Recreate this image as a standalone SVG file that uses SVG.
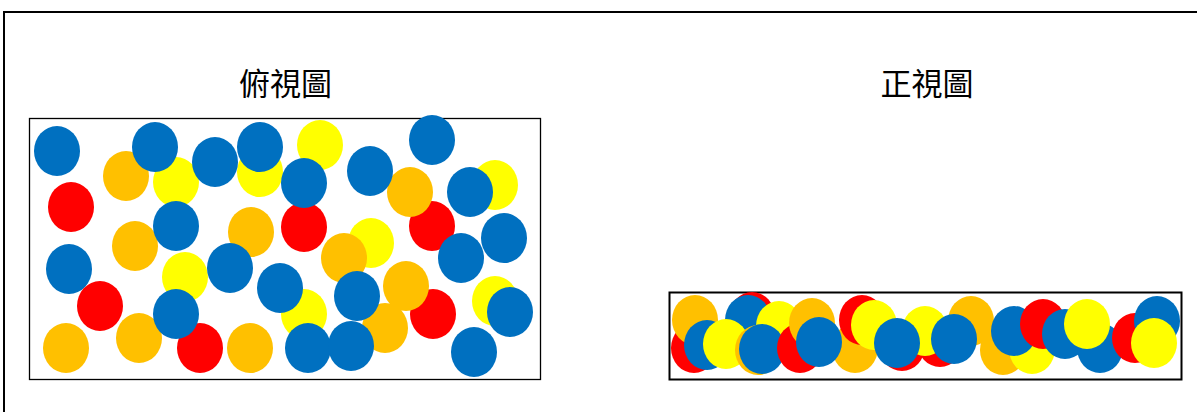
<svg xmlns="http://www.w3.org/2000/svg" width="1197" height="412" viewBox="0 0 1197 412">
<style>
.b{fill:#0070C0}.o{fill:#FFC000}.y{fill:#FFFF00}.r{fill:#FF0000}
.t{font-family:"Noto Sans CJK TC","Noto Sans CJK SC",sans-serif;font-size:31px;fill:#000;text-anchor:middle}
</style>
<defs><ellipse id="e" cx="0" cy="0" rx="23" ry="25"/></defs>
<rect x="4" y="12" width="1200" height="410" fill="#fff" stroke="#000" stroke-width="2"/>
<text class="t" x="285.5" y="95">俯視圖</text>
<text class="t" x="927" y="95">正視圖</text>
<g id="top-view">
<rect x="29.5" y="118.5" width="511" height="261" fill="#fff" stroke="#000" stroke-width="1.3"/>
<g class="y">
<use href="#e" x="176" y="182"/><use href="#e" x="260" y="172"/><use href="#e" x="320" y="145"/><use href="#e" x="495" y="185"/>
<use href="#e" x="371" y="243"/><use href="#e" x="185" y="277"/><use href="#e" x="304" y="314"/><use href="#e" x="495" y="301"/>
</g>
<g class="r">
<use href="#e" x="71" y="207"/><use href="#e" x="304" y="227"/><use href="#e" x="432" y="226"/><use href="#e" x="433" y="314"/><use href="#e" x="200" y="348"/>
</g>
<g class="o">
<use href="#e" x="126" y="176"/><use href="#e" x="410" y="192"/><use href="#e" x="135" y="246"/><use href="#e" x="251" y="232"/>
<use href="#e" x="344" y="258"/><use href="#e" x="406" y="286"/><use href="#e" x="385" y="328"/>
<use href="#e" x="66" y="348"/><use href="#e" x="139" y="338"/><use href="#e" x="250" y="348"/>
</g>
<g class="b">
<use href="#e" x="57" y="151"/><use href="#e" x="155" y="147"/><use href="#e" x="215" y="162"/><use href="#e" x="260" y="147"/>
<use href="#e" x="432" y="140"/><use href="#e" x="304" y="183"/><use href="#e" x="370" y="171"/><use href="#e" x="470" y="192"/>
<use href="#e" x="176" y="226"/><use href="#e" x="504" y="238"/><use href="#e" x="461" y="258"/>
<use href="#e" x="69" y="269"/><use href="#e" x="230" y="268"/><use href="#e" x="280" y="288"/><use href="#e" x="176" y="314"/>
<use href="#e" x="357" y="296"/><use href="#e" x="510" y="312"/>
<use href="#e" x="308" y="348"/><use href="#e" x="351" y="346"/><use href="#e" x="474" y="352"/>
</g>
<use href="#e" class="r" x="100" y="306"/>
</g>
<g id="front-view">
<rect x="669.5" y="292.5" width="512" height="87" fill="#fff" stroke="#000" stroke-width="2"/>
<use href="#e" class="r" x="694" y="348"/>
<use href="#e" class="o" x="695" y="320"/>
<use href="#e" class="b" x="707" y="345"/>
<use href="#e" class="r" x="752" y="317"/>
<use href="#e" class="b" x="748" y="320"/>
<use href="#e" class="y" x="726" y="344"/>
<use href="#e" class="o" x="758" y="350"/>
<use href="#e" class="y" x="779" y="326"/>
<use href="#e" class="b" x="762" y="349"/>
<use href="#e" class="r" x="800" y="348"/>
<use href="#e" class="o" x="812" y="323"/>
<use href="#e" class="o" x="855" y="348"/>
<use href="#e" class="b" x="819" y="342"/>
<use href="#e" class="r" x="862" y="320"/>
<use href="#e" class="y" x="874" y="325"/>
<use href="#e" class="r" x="902" y="346"/>
<use href="#e" class="r" x="940" y="342"/>
<use href="#e" class="y" x="925" y="331"/>
<use href="#e" class="b" x="897" y="343"/>
<use href="#e" class="o" x="971" y="321"/>
<use href="#e" class="o" x="1003" y="350"/>
<use href="#e" class="b" x="954" y="339"/>
<use href="#e" class="y" x="1032" y="349"/>
<use href="#e" class="b" x="1014" y="331"/>
<use href="#e" class="r" x="1043" y="324"/>
<use href="#e" class="b" x="1065" y="334"/>
<use href="#e" class="b" x="1100" y="348"/>
<use href="#e" class="y" x="1087" y="324"/>
<use href="#e" class="r" x="1135" y="338"/>
<use href="#e" class="b" x="1157" y="321"/>
<use href="#e" class="y" x="1154" y="343"/>
</g>
<g id="connectors"/>
</svg>
